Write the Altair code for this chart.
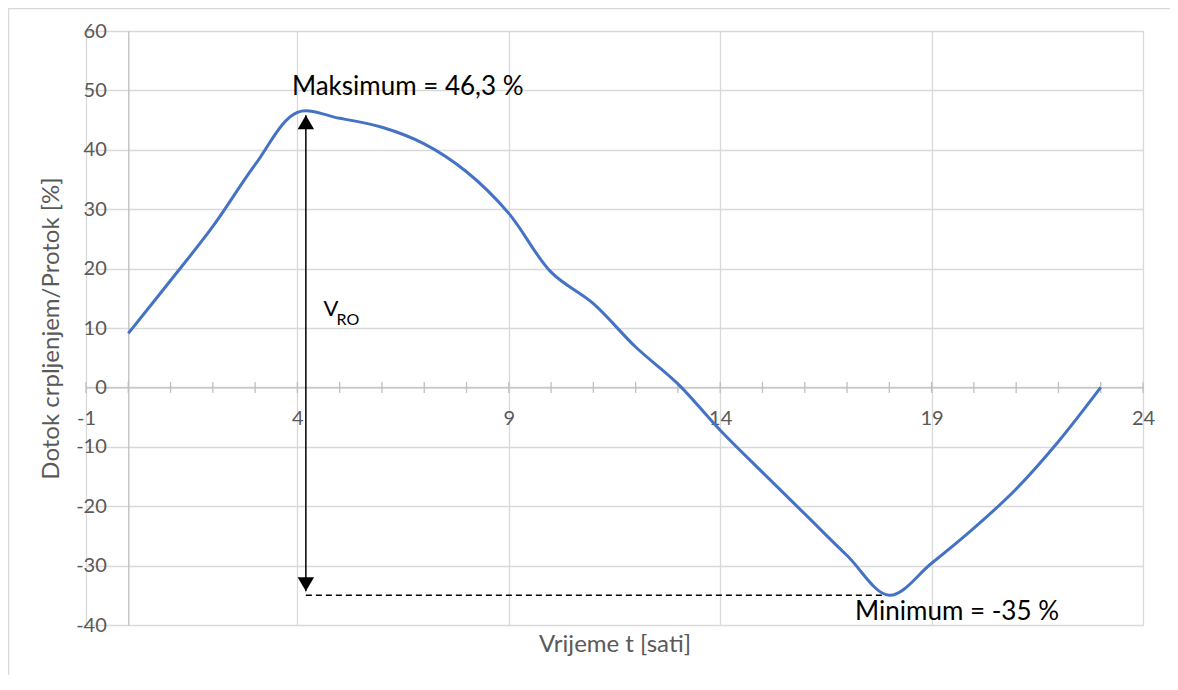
import altair as alt
import pandas as pd

# ---- data ----
hours = list(range(0, 24))
flow_pct = [9.1, 18.0, 27.1, 37.5, 46.3, 45.3, 43.8, 41.0, 36.3, 29.3, 19.4, 14.1,
            6.8, 0.6, -7.2, -14.3, -21.3, -28.3, -35.0, -29.6, -23.7, -17.1, -9.1, 0.0]

x_major = [-1, 4, 9, 14, 19, 24]
x_minor = list(range(-1, 25))
y_ticks = [-40, -30, -20, -10, 0, 10, 20, 30, 40, 50, 60]

max_value = 46.3
min_value = -35.0
max_label = "Maksimum = 46,3 %"
min_label = "Minimum = -35 %"
vol_label_main = "V"
vol_label_sub = "RO"

# annotation anchors (data units)
arrow_x = 4.2
arrow_top = 45.8
arrow_bottom = -34.3
min_x = 18.0
max_text_xy = (3.87, 49.2)
min_text_xy = (17.19, -39.2)
vol_text_xy = (4.62, 12.1)

W, H = 1057, 594
FONT = "Lato"
GRID = "#d9d9d9"
AXIS = "#bfbfbf"
LBL = "#595959"

df = pd.DataFrame({"t": hours, "v": flow_pct})
ticks_df = pd.DataFrame({"t": x_minor, "v": [0] * len(x_minor)})

xscale = alt.Scale(domain=[-1, 24], nice=False, zero=False)
yscale = alt.Scale(domain=[-40, 60], nice=False, zero=False)

x_off = -(H - H * 60 / 100)   # x axis drawn through y = 0
y_off = -(W / 25)             # y axis drawn through x = 0

line = alt.Chart(df).mark_line(
    interpolate="catmull-rom", color="#4472C4", strokeWidth=3
).encode(
    x=alt.X("t:Q", scale=xscale, axis=alt.Axis(
        values=x_major, title="Vrijeme t [sati]", offset=x_off, ticks=False,
        domainColor=AXIS, domainWidth=1.3, gridColor=GRID, gridWidth=1.3,
        labelColor=LBL, labelFont=FONT, labelFontSize=20, labelPadding=21,
        labelFlush=False, labelOverlap=False, labelExpr="datum.value + ''",
        titleFont=FONT, titleFontSize=24, titleFontWeight="normal", titleColor=LBL,
        titleX=W / 2, titleY=(620 - (H + x_off)), titleBaseline="alphabetic",
        titleAlign="center", zindex=0)),
    y=alt.Y("v:Q", scale=yscale, axis=alt.Axis(
        values=y_ticks, title="Dotok crpljenjem/Protok [%]", offset=y_off, ticks=False,
        domainColor=AXIS, domainWidth=1.3, gridColor=GRID, gridWidth=1.3,
        labelColor=LBL, labelFont=FONT, labelFontSize=20, labelPadding=22,
        labelFlush=False, labelOverlap=False, labelExpr="datum.value + ''",
        titleFont=FONT, titleFontSize=24, titleFontWeight="normal", titleColor=LBL,
        titleX=-34.5 + y_off, titleY=H / 2, titleAngle=270, titleBaseline="middle",
        titleAlign="center", zindex=0)),
)

minor = alt.Chart(ticks_df).mark_tick(
    orient="vertical", size=11, thickness=1.3, color=AXIS, opacity=1
).encode(x=alt.X("t:Q", scale=xscale), y=alt.Y("v:Q", scale=yscale))

ann = pd.DataFrame({
    "x": [arrow_x], "x2": [min_x], "ymin": [min_value],
    "top": [arrow_top], "bot": [arrow_bottom],
})

dashed = alt.Chart(ann).mark_rule(color="black", strokeWidth=1.5, strokeDash=[6, 4]).encode(
    x="x:Q", x2="x2:Q", y="ymin:Q")

arrow = alt.Chart(ann).mark_rule(color="black", strokeWidth=1.5).encode(
    x="x:Q", y="bot:Q", y2="top:Q")

head_up = alt.Chart(ann).mark_point(
    shape="M-1,1.7 L0,0 L1,1.7 Z", filled=True, color="black", size=270,
    opacity=1, strokeWidth=0
).encode(x="x:Q", y="top:Q")
head_down = alt.Chart(ann).mark_point(
    shape="M-1,-1.7 L0,0 L1,-1.7 Z", filled=True, color="black", size=270,
    opacity=1, strokeWidth=0
).encode(x="x:Q", y="bot:Q")

txt = pd.DataFrame({
    "x": [max_text_xy[0], min_text_xy[0]],
    "y": [max_text_xy[1], min_text_xy[1]],
    "label": [max_label, min_label],
})
texts = alt.Chart(txt).mark_text(
    align="left", baseline="alphabetic", font=FONT, fontSize=26, color="black"
).encode(x="x:Q", y="y:Q", text="label:N")

vdf = pd.DataFrame({"x": [vol_text_xy[0]], "y": [vol_text_xy[1]],
                    "main": [vol_label_main], "sub": [vol_label_sub]})
vmain = alt.Chart(vdf).mark_text(
    align="left", baseline="alphabetic", font=FONT, fontSize=22, color="black"
).encode(x="x:Q", y="y:Q", text="main:N")
vsub = alt.Chart(vdf).mark_text(
    align="left", baseline="alphabetic", font=FONT, fontSize=16, color="black", dx=13, dy=9
).encode(x="x:Q", y="y:Q", text="sub:N")

border_top = alt.Chart(ann).mark_rule(color=GRID, strokeWidth=1.5).encode(
    x=alt.value(-78), x2=alt.value(1200), y=alt.value(-22.5))
border_left = alt.Chart(ann).mark_rule(color=GRID, strokeWidth=1.5).encode(
    x=alt.value(-77.5), y=alt.value(-23), y2=alt.value(700))

chart = alt.layer(
    border_top, border_left, minor, dashed, arrow, head_up, head_down,
    line, texts, vmain, vsub
).properties(
    width=W, height=H,
    padding={"left": 78, "top": 23, "right": 27, "bottom": 50},
    autosize=alt.AutoSizeParams(type="none"),
).configure_view(stroke=None).configure(background="white")

chart.save("out.html", embed_options={"renderer": "svg", "actions": False})
